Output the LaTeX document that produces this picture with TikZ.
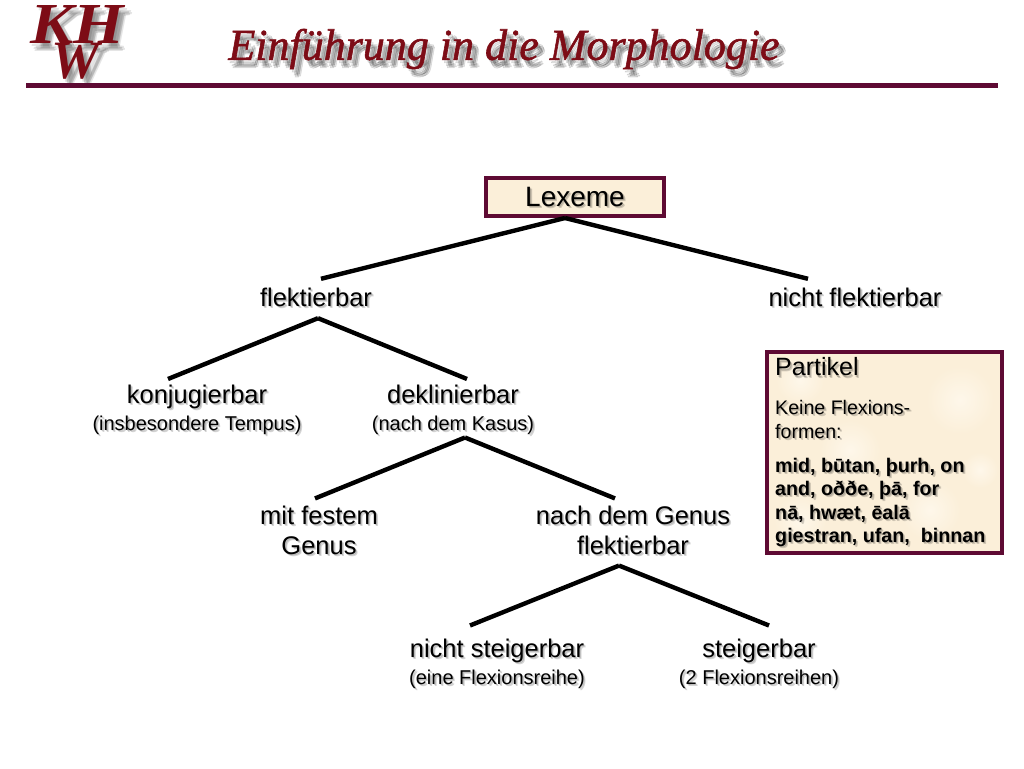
\documentclass[tikz,border=0pt]{standalone}
\usepackage{fontspec}
\setmainfont{Liberation Sans}
\newfontfamily\titlefont{Liberation Serif}[ItalicFeatures={FakeBold=1.3}]
\newfontfamily\logofont{Liberation Serif}
\definecolor{wine}{HTML}{5E0A33}
\definecolor{cream}{HTML}{FBEFD9}
\definecolor{creamb}{HTML}{FEF7EA}
\definecolor{titlered}{HTML}{7D0C16}
\tikzset{
  lab/.style={inner sep=0pt,align=center,font=\fontsize{25.5}{30}\selectfont,minimum height=40pt},
  halo/.style={text=black,text opacity=0.17},
  treeline/.style={draw=black,line width=4.4pt},
  framebox/.style={draw=wine,line width=4pt,fill=cream,inner sep=0pt},
  parttext/.style={inner sep=0pt,anchor=west,align=left},
  banner/.style={inner sep=0pt,text=titlered},
}
% label with soft drop shadow: #1 name, #2 position, #3 options, #4 text
\newcommand{\shlabel}[4]{%
  \node[#3,halo] (#1-sa) at ([shift={(1.1,1.1)}]#2) {#4};
  \node[#3,halo] (#1-sb) at ([shift={(2.1,2.1)}]#2) {#4};
  \node[#3] (#1) at (#2) {#4};
}
\newcommand{\smalltxt}[1]{{\fontsize{20}{24}\selectfont #1}}
\newcommand{\softtitle}[4]{%
  \foreach \dx/\dy [count=\n] in {2/3,4/6,6/5,5/8,7/7}
    {\node[banner,#3,text=black,text opacity=0.1] (#1-s\n) at ([shift={(\dx,\dy)}]#2) {#4};}
  \node[banner,#3] (#1) at (#2) {#4};
}
\begin{document}
\begin{tikzpicture}[x=1pt,y=-1pt]
\useasboundingbox (0,0) rectangle (1024,768);
\fill[white] (0,0) rectangle (1024,768);

% header
\softtitle{tt}{504,49}{font=\titlefont\itshape\fontsize{44}{44}\selectfont}{Einführung in die Morphologie}
\softtitle{lk}{77,25}{font=\logofont\itshape\bfseries\fontsize{58}{58}\selectfont}{\scalebox{1.12}[1]{KH}}
\softtitle{lw}{76,61}{font=\logofont\itshape\bfseries\fontsize{54}{54}\selectfont}{W}
\coordinate (ruleL) at (26,85.5);
\coordinate (ruleR) at (998,85.5);
\draw[wine,line width=4.5pt] (ruleL) -- (ruleR);

% boxes
\node[framebox,minimum width=178pt,minimum height=38pt] (lexbox) at (575,197) {};
\node[framebox,outer sep=0pt,minimum width=235pt,minimum height=201pt] (partbox) at (884.5,452.5) {};
\foreach \cx/\cy/\r [count=\n] in {800/380/24,960/400/34,850/450/30,930/510/30,800/520/26,980/470/18}
  {\shade[inner color=creamb,outer color=cream] (\cx,\cy) circle (\r);}

% labels
\shlabel{lex}{575,197}{lab,font=\fontsize{28}{30}\selectfont}{Lexeme}
\shlabel{flek}{316,297}{lab}{flektierbar}
\shlabel{nflek}{855,297}{lab}{nicht flektierbar}
\shlabel{konj}{197,409.5}{lab}{konjugierbar\\[-3pt]\smalltxt{(insbesondere Tempus)}}
\shlabel{dekl}{453,409.5}{lab}{deklinierbar\\[-3pt]\smalltxt{(nach dem Kasus)}}
\shlabel{fest}{319,530}{lab}{mit festem\\Genus}
\shlabel{genus}{633,530}{lab}{nach dem Genus\\flektierbar}
\shlabel{nst}{497,663.5}{lab}{nicht steigerbar\\[-3pt]\smalltxt{(eine Flexionsreihe)}}
\shlabel{st}{759,663.5}{lab}{steigerbar\\[-3pt]\smalltxt{(2 Flexionsreihen)}}

% partikel text
\shlabel{pa}{775,367}{parttext,font=\fontsize{25}{28}\selectfont}{Partikel}
\shlabel{pb}{775,419.5}{parttext,font=\fontsize{19.6}{23.5}\selectfont}{Keine Flexions-\\formen:}
\shlabel{pc}{775,502.5}{parttext,font=\bfseries\fontsize{19.7}{23.5}\selectfont}{mid, būtan, þurh, on\\and, oððe, þā, for\\nā, hwæt, ēalā\\giestran, ufan,~~binnan}

% connectors
\draw[treeline] ([xshift=-10pt]lexbox.south) -- ([xshift=5pt,yshift=-2pt]flek.north);
\draw[treeline] ([xshift=-10pt]lexbox.south) -- ([xshift=-47pt,yshift=-2pt]nflek.north);
\draw[treeline] ([xshift=2pt,yshift=-1pt]flek.south) -- ([xshift=-29pt,yshift=5.5pt]konj.north);
\draw[treeline] ([xshift=2pt,yshift=-1pt]flek.south) -- ([xshift=14pt,yshift=5.5pt]dekl.north);
\draw[treeline] ([xshift=12pt,yshift=-3pt]dekl.south) -- ([xshift=-4pt,yshift=7pt]fest.north);
\draw[treeline] ([xshift=12pt,yshift=-3pt]dekl.south) -- ([xshift=-18pt,yshift=7pt]genus.north);
\draw[treeline] ([xshift=-14pt,yshift=-11pt]genus.south) -- ([xshift=-27pt,yshift=13pt]nst.north);
\draw[treeline] ([xshift=-14pt,yshift=-11pt]genus.south) -- ([xshift=10pt,yshift=13pt]st.north);
\end{tikzpicture}
\end{document}
